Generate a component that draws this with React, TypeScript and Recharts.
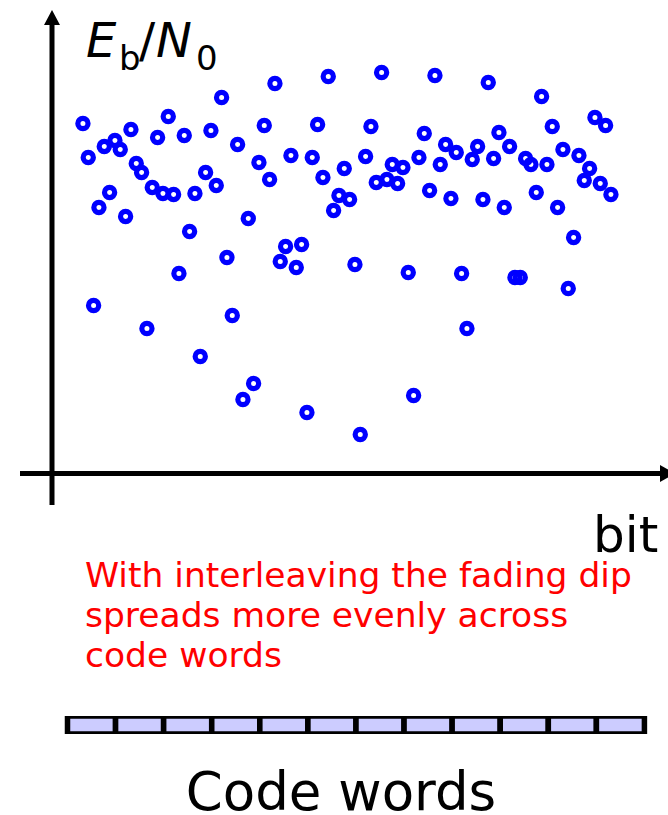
import { ScatterChart, Scatter, XAxis, YAxis, ReferenceLine, BarChart, Bar } from 'recharts';

// received Eb/N0 per bit after interleaving (bits 1..100)
const ebN0 = [
  35.0, 31.6, 16.8, 26.6, 32.7, 28.1, 33.3, 32.4, 25.7, 34.4,
  31.0, 30.1, 14.5, 28.6, 33.6, 28.0, 35.7, 27.9, 20.0, 33.8,
  24.2, 28.0, 11.7, 30.1, 34.3, 28.8, 37.6, 21.6, 15.8, 32.9,
  7.4, 25.5, 9.0, 31.1, 34.8, 29.4, 39.0, 21.2, 22.7, 31.8,
  20.6, 22.9, 6.1, 31.6, 34.9, 29.6, 39.7, 26.3, 27.8, 30.5,
  27.4, 20.9, 3.9, 31.7, 34.7, 29.1, 40.1, 29.4, 30.9, 29.0,
  30.6, 20.1, 7.8, 31.6, 34.0, 28.3, 39.8, 30.9, 32.9, 27.5,
  32.1, 20.0, 14.5, 31.4, 32.7, 27.4, 39.1, 31.5, 34.1, 26.6,
  32.7, 19.6, 19.6, 31.5, 30.9, 28.1, 37.7, 30.9, 34.7, 26.6,
  32.4, 18.5, 23.6, 31.8, 29.3, 30.5, 35.6, 29.0, 34.8, 27.9,
];

const codeWords = ['1', '2', '3', '4', '5', '6', '7', '8', '9', '10', '11', '12'];

const captionLines = [
  'With interleaving the fading dip',
  'spreads more evenly across',
  'code words',
];

const points = ebN0.map((v, i) => ({ bit: i + 1, ebn0: v }));
const words = codeWords.map((w) => ({ word: w, len: 1 }));

const FONT = '"DejaVu Sans", sans-serif';

const YArrow = (p: any) => {
  const x = p.x1;
  const top = Math.min(p.y1, p.y2);
  const bottom = Math.max(p.y1, p.y2);
  return (
    <g>
      <line x1={x} y1={bottom} x2={x} y2={top + 14} stroke="#000" strokeWidth={5} />
      <polygon points={`${x - 8},${top + 15} ${x + 8},${top + 15} ${x},${top}`} fill="#000" />
    </g>
  );
};

const XArrow = (p: any) => {
  const y = p.y1;
  const left = Math.min(p.x1, p.x2);
  const right = Math.max(p.x1, p.x2);
  return (
    <g>
      <line x1={left} y1={y} x2={right - 7} y2={y} stroke="#000" strokeWidth={5} />
      <polygon points={`${right - 8},${y - 8.5} ${right - 8},${y + 8.5} ${right + 7},${y}`} fill="#000" />
    </g>
  );
};

const Ring = (p: any) => (
  <circle cx={p.cx} cy={p.cy} r={5.1} fill="none" stroke="#0000ff" strokeWidth={5.2} />
);

const WordBox = (p: any) => (
  <rect x={p.x} y={p.y} width={p.width} height={p.height} fill="#ccccff" stroke="#000" strokeWidth={5.5} />
);

export default function App() {
  return (
    <div style={{ position: 'absolute', left: 0, top: 0, width: 668, height: 815, overflow: 'hidden', background: '#fff' }}>
      <div style={{ position: 'absolute', left: 0, top: 0 }}>
        <ScatterChart width={668} height={520} margin={{ top: 10, right: 0, bottom: 15, left: 20 }}>
          <XAxis dataKey="bit" type="number" domain={[-10.8, 110.7]} allowDataOverflow hide />
          <YAxis dataKey="ebn0" type="number" domain={[-3.15, 46.35]} allowDataOverflow hide />
          <ReferenceLine x={-4.8} shape={YArrow} ifOverflow="visible" />
          <ReferenceLine y={0} shape={XArrow} ifOverflow="visible" />
          <Scatter data={points} shape={Ring} isAnimationActive={false} />
        </ScatterChart>
      </div>

      <div style={{ position: 'absolute', left: 0, top: 700 }}>
        <BarChart width={668} height={50} data={words} barCategoryGap={0} margin={{ top: 16, right: 23.5, bottom: 16, left: 67.5 }}>
          <XAxis dataKey="word" hide />
          <YAxis domain={[0, 1]} allowDataOverflow hide />
          <Bar dataKey="len" shape={WordBox} isAnimationActive={false} />
        </BarChart>
      </div>

      <svg width={668} height={815} style={{ position: 'absolute', left: 0, top: 0, pointerEvents: 'none' }}>
        <text y={57} fontFamily={FONT} fontSize={48} fill="#000">
          <tspan x={86} fontStyle="italic">E</tspan>
          <tspan x={119} y={70} fontSize={34}>b</tspan>
          <tspan x={139} y={57}>/</tspan>
          <tspan x={156} fontStyle="italic">N</tspan>
          <tspan x={196} y={70} fontSize={34}>0</tspan>
        </text>
        <text x={593} y={552} fontFamily={FONT} fontSize={50} fill="#000">bit</text>
        {captionLines.map((line, i) => (
          <text key={line} x={85} y={587 + i * 40} fontFamily={FONT} fontSize={34.5} fill="#ff0000">
            {line}
          </text>
        ))}
        <text x={341} y={810} textAnchor="middle" fontFamily={FONT} fontSize={53} fill="#000">Code words</text>
      </svg>
    </div>
  );
}
